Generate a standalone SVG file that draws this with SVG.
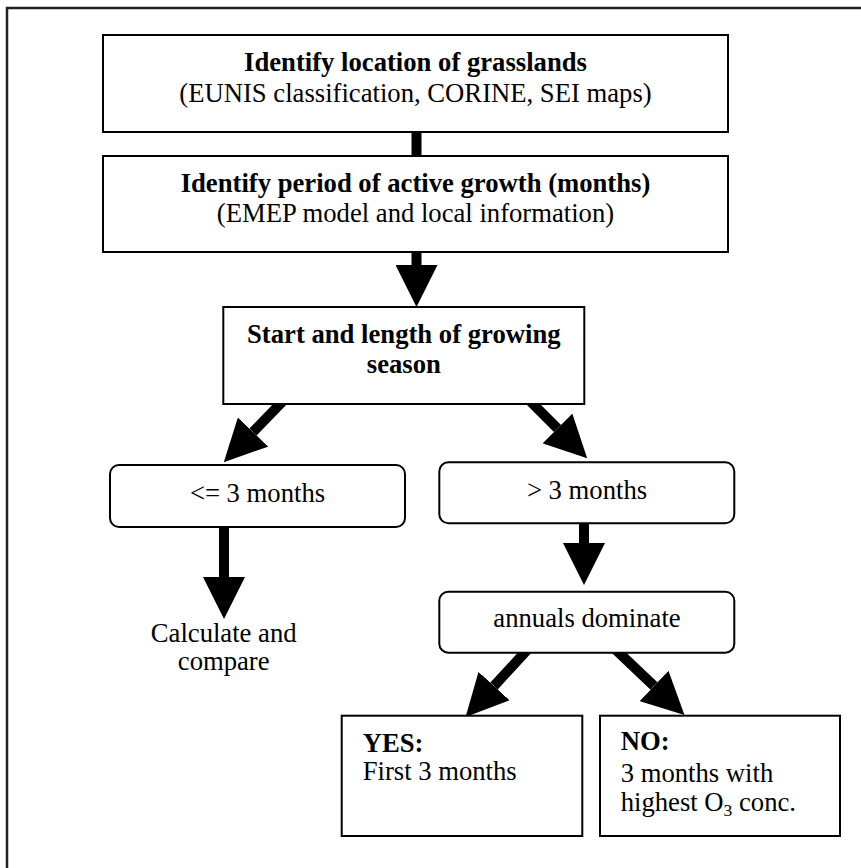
<svg xmlns="http://www.w3.org/2000/svg" width="861" height="868" viewBox="0 0 861 868">
<style>
  .box { fill: #fff; stroke: #000; stroke-width: 2; }
  .frame { fill: none; stroke: #222; stroke-width: 2.5; }
  .shaft { fill: none; stroke: #000; stroke-width: 10; stroke-linecap: butt; }
  .t { font-family: "Liberation Serif", "Times New Roman", serif; font-size: 26.67px; fill: #000; }
  .b { font-weight: bold; }
  .c { text-anchor: middle; }
</style>
<defs>
  <marker id="head" markerUnits="userSpaceOnUse" markerWidth="42" markerHeight="42" viewBox="0 0 42 42" refX="0" refY="21" orient="auto">
    <path d="M0,0 L42,21 L0,42 Z" fill="#000"/>
  </marker>
</defs>
<rect width="861" height="868" fill="#fff"/>
<path class="frame" d="M7,870 V8 H863"/>
<g id="connectors">
  <line class="shaft" x1="416.5" y1="128" x2="416.5" y2="160"/>
  <line class="shaft" x1="416.5" y1="248" x2="416.5" y2="265" marker-end="url(#head)"/>
  <line class="shaft" x1="284" y1="400" x2="253" y2="432" marker-end="url(#head)"/>
  <line class="shaft" x1="529" y1="400" x2="557.5" y2="428.5" marker-end="url(#head)"/>
  <line class="shaft" x1="224" y1="523" x2="224" y2="577" marker-end="url(#head)"/>
  <line class="shaft" x1="584" y1="519" x2="584" y2="543" marker-end="url(#head)"/>
  <line class="shaft" x1="528" y1="649" x2="494" y2="686" marker-end="url(#head)"/>
  <line class="shaft" x1="615" y1="649" x2="654" y2="686" marker-end="url(#head)"/>
</g>
<g id="n1">
  <rect class="box" x="103" y="35" width="625" height="97"/>
  <text class="t b c" x="415.5" y="70.7">Identify location of grasslands</text>
  <text class="t c" x="415.5" y="101.7">(EUNIS classification, CORINE, SEI maps)</text>
</g>
<g id="n2">
  <rect class="box" x="103" y="156" width="625" height="96"/>
  <text class="t b c" x="415.5" y="191.7">Identify period of active growth (months)</text>
  <text class="t c" x="415.5" y="221.7">(EMEP model and local information)</text>
</g>
<g id="n3">
  <rect class="box" x="223.3" y="307" width="361" height="97"/>
  <text class="t b c" x="403.8" y="342.7">Start and length of growing</text>
  <text class="t b c" x="403.8" y="373.3">season</text>
</g>
<g id="n4">
  <rect class="box" x="110" y="465" width="295" height="62" rx="9"/>
  <text class="t c" x="257.5" y="502.3">&lt;= 3 months</text>
</g>
<g id="n5">
  <rect class="box" x="439.3" y="462.3" width="295" height="61" rx="9"/>
  <text class="t c" x="587" y="499">&gt; 3 months</text>
</g>
<g id="n6">
  <text class="t c" x="223.7" y="641.7">Calculate and</text>
  <text class="t c" x="223.7" y="670">compare</text>
</g>
<g id="n7">
  <rect class="box" x="439.3" y="591.7" width="295" height="61" rx="9"/>
  <text class="t c" x="587" y="626.7">annuals dominate</text>
</g>
<g id="n8">
  <rect class="box" x="341.7" y="715.7" width="240.6" height="120.3"/>
  <text class="t b" x="362.7" y="751.7">YES:</text>
  <text class="t" x="362.7" y="780">First 3 months</text>
</g>
<g id="n9">
  <rect class="box" x="600" y="715.7" width="240" height="120.3"/>
  <text class="t b" x="620.7" y="750">NO:</text>
  <text class="t" x="620.7" y="781.7">3 months with</text>
  <text class="t" x="620.7" y="810.7">highest O<tspan dy="5" font-size="17.5">3</tspan><tspan dy="-5"> conc.</tspan></text>
</g>
</svg>
